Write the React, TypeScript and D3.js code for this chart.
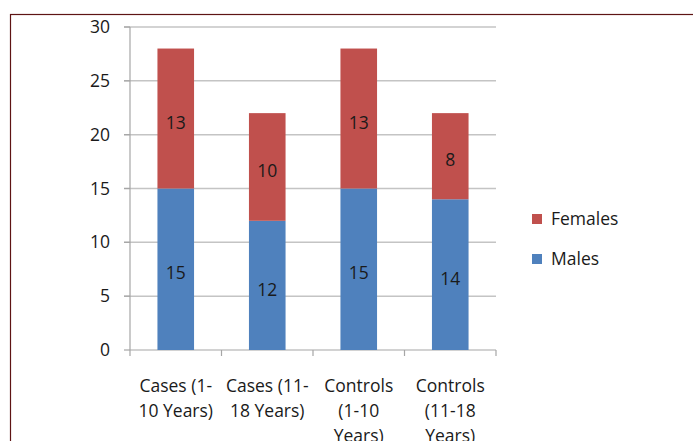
import React from "react";
import * as d3 from "d3";

const categories = ["Cases (1-10 Years)", "Cases (11-18 Years)", "Controls (1-10 Years)", "Controls (11-18 Years)"];
const categoryLines = [
  ["Cases (1-", "10 Years)"],
  ["Cases (11-", "18 Years)"],
  ["Controls", "(1-10", "Years)"],
  ["Controls", "(11-18", "Years)"],
];
const males = [15, 12, 15, 14];
const females = [13, 10, 13, 8];
const yTicks = [0, 5, 10, 15, 20, 25, 30];
const seriesNames = ["Males", "Females"];
const seriesColors = ["#4F81BD", "#C0504D"];

const W = 693;
const H = 441;
const FONT = "'Open Sans', Lato, sans-serif";
const FS = 17.5;

export default function App() {
  const x = d3.scaleBand<string>().domain(categories).range([130, 496]).paddingInner(0.6).paddingOuter(0.3);
  const band = d3.scaleBand<string>().domain(categories).range([130, 496]);
  const y = d3.scaleLinear().domain([0, 30]).range([350, 27]);

  const rows = categories.map((c, i) => ({ cat: c, Males: males[i], Females: females[i] }));
  const stack = d3.stack<any>().keys(seriesNames)(rows);

  return (
    <svg width={W} height={H} style={{ position: "absolute", left: 0, top: 0, background: "#fff" }} fontFamily={FONT}>
      <rect x={10.5} y={14.5} width={720} height={500} fill="#fff" stroke="#5e1414" strokeWidth={1.2} />
      {yTicks.map((t) => (
        <g key={t}>
          {t > 0 && <line x1={124} x2={496} y1={y(t)} y2={y(t)} stroke="#c4c4c4" strokeWidth={1.5} />}
          <line x1={124} x2={130} y1={y(t)} y2={y(t)} stroke="#a6a6a6" strokeWidth={1.2} />
          <text x={110} y={y(t)} dy="0.35em" textAnchor="end" fontSize={FS} fill="#1a1a1a">
            {t}
          </text>
        </g>
      ))}
      <line x1={130} x2={130} y1={y(30)} y2={y(0)} stroke="#a6a6a6" strokeWidth={1.2} />
      <line x1={130} x2={496} y1={y(0)} y2={y(0)} stroke="#a6a6a6" strokeWidth={1.2} />
      {categories.map((c) => (
        <line key={c} x1={band(c)!} x2={band(c)!} y1={y(0)} y2={y(0) + 6} stroke="#a6a6a6" strokeWidth={1.2} />
      ))}
      <line x1={496} x2={496} y1={y(0)} y2={y(0) + 6} stroke="#a6a6a6" strokeWidth={1.2} />
      {stack.map((s, si) => (
        <g key={s.key}>
          {s.map((d, i) => {
            const x0 = x(categories[i])!;
            const y0 = y(d[1]);
            const h = y(d[0]) - y(d[1]);
            return (
              <g key={i}>
                <rect x={x0} y={y0} width={x.bandwidth()} height={h} fill={seriesColors[si]} />
                <text
                  x={x0 + x.bandwidth() / 2}
                  y={y0 + h / 2 + 4}
                  dy="0.35em"
                  textAnchor="middle"
                  fontSize={FS}
                  fill="#1a1a1a"
                >
                  {d[1] - d[0]}
                </text>
              </g>
            );
          })}
        </g>
      ))}
      {categories.map((c, i) => (
        <text key={c} textAnchor="middle" fontSize={FS} fill="#1a1a1a">
          {categoryLines[i].map((ln, li) => (
            <tspan key={li} x={band(c)! + band.bandwidth() / 2} y={386 + li * 25} dy="0.35em">
              {ln}
            </tspan>
          ))}
        </text>
      ))}
      {[1, 0].map((si, k) => (
        <g key={si}>
          <rect x={532} y={214 + k * 40} width={10} height={10} fill={seriesColors[si]} />
          <text x={551} y={219 + k * 40} dy="0.35em" fontSize={FS} fill="#1a1a1a">
            {seriesNames[si]}
          </text>
        </g>
      ))}
    </svg>
  );
}
